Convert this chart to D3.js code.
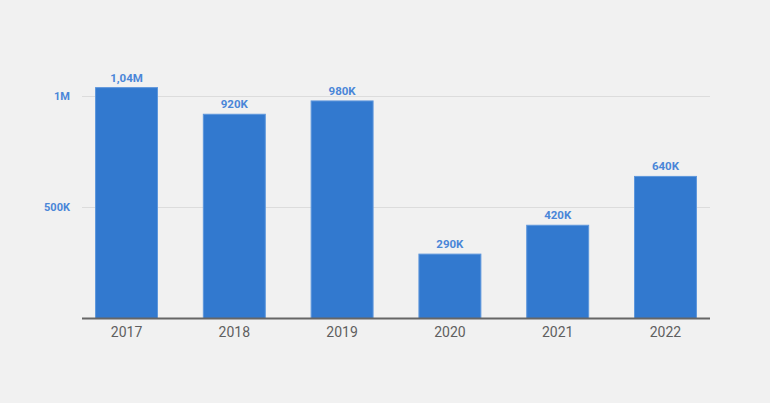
<!DOCTYPE html>
<html>
<head>
<meta charset="utf-8">
<script src="https://cdn.jsdelivr.net/npm/d3@7"></script>
<style>
  html, body { margin: 0; padding: 0; background: #f1f1f1; }
  svg { display: block; }
</style>
</head>
<body>
<svg id="chart" width="770" height="403"></svg>
<script>
const categories = ["2017", "2018", "2019", "2020", "2021", "2022"];
const values = [1040000, 920000, 980000, 290000, 420000, 640000];
const valueLabels = ["1,04M", "920K", "980K", "290K", "420K", "640K"];
const yTicks = [500000, 1000000];
const yTickLabels = ["500K", "1M"];

const svg = d3.select("#chart");
const W = 770, H = 403;
svg.append("rect").attr("width", W).attr("height", H).attr("fill", "#f1f1f1");

const x = d3.scaleBand().domain(categories).range([82, 710]).paddingInner(0.416).paddingOuter(0.121);
const y = d3.scaleLinear().domain([0, 1000000]).range([318.5, 96.5]);

// gridlines
svg.append("g").selectAll("line").data(yTicks).join("line")
  .attr("x1", 82).attr("x2", 710)
  .attr("y1", d => y(d)).attr("y2", d => y(d))
  .attr("stroke", "#dcdcdc").attr("stroke-width", 1);

// y tick labels
svg.append("g").selectAll("text").data(yTicks).join("text")
  .attr("x", 70).attr("y", d => y(d))
  .attr("dy", "0.35em")
  .attr("text-anchor", "end")
  .attr("font-family", "Roboto, 'Noto Sans', sans-serif")
  .attr("font-weight", "bold")
  .attr("font-size", 11)
  .attr("fill", "#4a86d8")
  .text((d, i) => yTickLabels[i]);

// bars
svg.append("g").selectAll("rect").data(values).join("rect")
  .attr("x", (d, i) => x(categories[i]) + 0.5)
  .attr("y", d => y(d))
  .attr("width", x.bandwidth() - 1)
  .attr("height", d => y(0) - y(d))
  .attr("fill", "#3279cf")
  .attr("stroke", "#5e97dc")
  .attr("stroke-width", 1);

// value labels
svg.append("g").selectAll("text").data(values).join("text")
  .attr("x", (d, i) => x(categories[i]) + x.bandwidth() / 2)
  .attr("y", d => y(d) - 6)
  .attr("text-anchor", "middle")
  .attr("font-family", "Roboto, 'Noto Sans', sans-serif")
  .attr("font-weight", "bold")
  .attr("font-size", 11.5)
  .attr("fill", "#4a86d8")
  .text((d, i) => valueLabels[i]);

// x axis
const xAxis = d3.axisBottom(x).tickSize(0).tickPadding(9);
const gx = svg.append("g").attr("transform", `translate(0,${y(0)})`).call(xAxis);
gx.select(".domain").attr("stroke", "#666").attr("stroke-width", 2).attr("d", "M82,0H710");
gx.selectAll("text")
  .attr("font-family", "Roboto, 'Noto Sans', sans-serif")
  .attr("font-size", 14)
  .attr("fill", "#5f5f5f");
</script>
</body>
</html>
